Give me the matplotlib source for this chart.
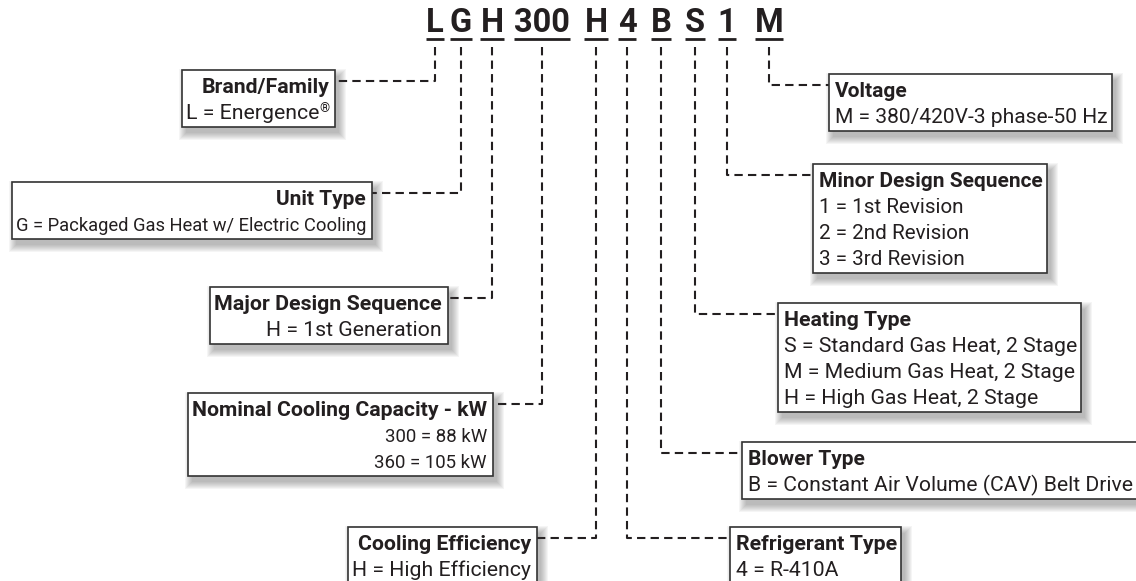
import matplotlib.pyplot as plt
from matplotlib.patches import Rectangle

plt.rcParams['font.family'] = ['Roboto', 'DejaVu Sans']

# model number parts and what each one means
code_parts = ["L", "G", "H", "300", "H", "4", "B", "S", "1", "M"]
titles = ["Brand/Family", "Unit Type", "Major Design Sequence",
          "Nominal Cooling Capacity - kW", "Cooling Efficiency",
          "Refrigerant Type", "Blower Type", "Heating Type",
          "Minor Design Sequence", "Voltage"]
options = [
    ["L = Energence®"],
    ["G = Packaged Gas Heat w/ Electric Cooling"],
    ["H = 1st Generation"],
    ["300 = 88 kW", "360 = 105 kW"],
    ["H = High Efficiency"],
    ["4 = R-410A"],
    ["B = Constant Air Volume (CAV) Belt Drive"],
    ["S = Standard Gas Heat, 2 Stage", "M = Medium Gas Heat, 2 Stage",
     "H = High Gas Heat, 2 Stage"],
    ["1 = 1st Revision", "2 = 2nd Revision", "3 = 3rd Revision"],
    ["M = 380/420V-3 phase-50 Hz"],
]

# layout in pixels
part_x = [435, 461, 492, 542, 596, 627, 661, 695, 727, 769]
box_side = ['left'] * 5 + ['right'] * 5
box_edge = [335, 372, 448, 493, 537, 730, 742, 778, 813, 829]
box_top = [70, 182, 287, 393, 527, 527, 442, 303, 164, 74]
title_size = [15.3, 15, 15.4, 15.3, 15.3, 15.4, 15, 15.3, 15, 15]
line_size = [15.3, 13.2, 15.3, 13.4, 15.3, 15.3, 15.2, 15.3, 14.9, 15.1]

W, H = 1136, 581
ink = '#231f20'
fs_code = 23.5
pad_in, pad_out = 6, 4
line_gap = 26

fig = plt.figure(figsize=(W / 100, H / 100), dpi=100)
ax = fig.add_axes([0, 0, 1, 1])
ax.set_xlim(0, W)
ax.set_ylim(H, 0)
ax.axis('off')
renderer = fig.canvas.get_renderer()


def text_w(s, size, weight='normal'):
    t = ax.text(0, 0, s, fontsize=size, fontweight=weight)
    w = t.get_window_extent(renderer).width
    t.remove()
    return w


def line_width(s, size):
    if s.endswith('®'):
        return text_w(s[:-1], size) + text_w('®', size * 0.6)
    return text_w(s, size)


def draw_line(x, y, s, ha, size):
    # trailing ® is drawn as a small superscript
    if s.endswith('®'):
        base = s[:-1]
        bw = text_w(base, size)
        x0 = x if ha == 'left' else x - line_width(s, size)
        ax.text(x0, y, base, fontsize=size, color=ink, ha='left', va='baseline', zorder=5)
        ax.text(x0 + bw, y - 7, '®', fontsize=size * 0.6, color=ink, ha='left',
                va='baseline', zorder=5)
    else:
        ax.text(x, y, s, fontsize=size, color=ink, ha=ha, va='baseline', zorder=5)


# code letters with underline
for s, x in zip(code_parts, part_x):
    ax.text(x, 32, s, fontsize=fs_code, fontweight='bold', color=ink,
            ha='center', va='baseline', zorder=5)
    w = text_w(s, fs_code, 'bold')
    ax.plot([x - w / 2, x + w / 2], [38.5, 38.5], color=ink, lw=2, solid_capstyle='butt')

# boxes and leader lines
for i in range(len(titles)):
    widths = [text_w(titles[i], title_size[i], 'bold')]
    widths += [line_width(s, line_size[i]) for s in options[i]]
    bw = max(widths) + pad_in + pad_out
    bh = 23 + line_gap * len(options[i]) + 8
    top = box_top[i]
    if box_side[i] == 'left':
        x0 = box_edge[i] - bw
        tx, ha = box_edge[i] - pad_in, 'right'
    else:
        x0 = box_edge[i]
        tx, ha = box_edge[i] + pad_in, 'left'

    # soft drop shadow
    for k in range(1, 9):
        ax.add_patch(Rectangle((x0 + 5 - k, top + 7 - k), bw + 2 * k - 2, bh + 2 * k - 2,
                               facecolor='#444444', alpha=0.05, lw=0, zorder=2))
    ax.add_patch(Rectangle((x0, top), bw, bh, facecolor='white', edgecolor='#333333',
                           lw=1.2, zorder=3))

    ax.text(tx, top + 23, titles[i], fontsize=title_size[i], fontweight='bold', color=ink,
            ha=ha, va='baseline', zorder=5)
    for j, s in enumerate(options[i]):
        draw_line(tx, top + 23 + line_gap * (j + 1), s, ha, line_size[i])

    cy = top + 11
    ax.plot([part_x[i], part_x[i], box_edge[i]], [47, cy, cy], color=ink, lw=1.5,
            linestyle=(0, (4, 2.5)), zorder=1)

fig.savefig('out.png', dpi=100)
